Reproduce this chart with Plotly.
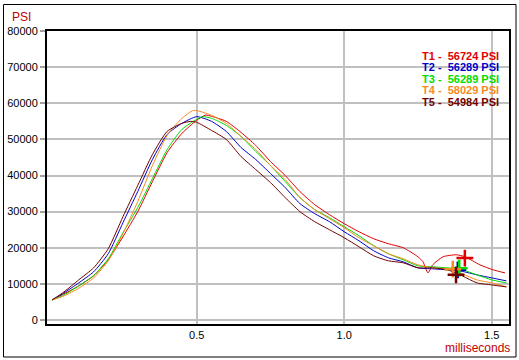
import plotly.graph_objects as go

# ---------------- data ----------------
NAMES = ["T1", "T2", "T3", "T4", "T5"]
PEAKS = [56724, 56289, 56289, 58029, 54984]
COLORS = ["#e00000", "#0000c8", "#00dc00", "#f58a1f", "#700000"]

T1_T = [0.01, 0.05, 0.10, 0.15, 0.20, 0.25, 0.30, 0.35, 0.40, 0.45, 0.50, 0.53, 0.55, 0.60, 0.65, 0.70,
        0.75, 0.80, 0.85, 0.90, 0.95, 1.00, 1.05, 1.10, 1.15, 1.20, 1.25, 1.267, 1.284, 1.30, 1.335,
        1.38, 1.41, 1.46, 1.505, 1.545]
T1_P = [5556, 7222, 9444, 12200, 16667, 23056, 30000, 38333, 46389, 51667, 55278, 56724, 56389, 55000,
        51944, 48333, 43889, 40000, 35556, 31944, 29167, 26667, 24444, 22500, 21111, 20000, 17500,
        16111, 13056, 15278, 17500, 18056, 17500, 15278, 13889, 13056]

T2_T = [0.01, 0.05, 0.10, 0.15, 0.20, 0.25, 0.30, 0.35, 0.40, 0.45, 0.50, 0.55, 0.60, 0.65, 0.70, 0.75,
        0.80, 0.85, 0.90, 0.95, 1.00, 1.05, 1.10, 1.15, 1.20, 1.25, 1.30, 1.35, 1.40, 1.45, 1.50, 1.55]
T2_P = [5556, 7500, 10278, 13300, 18333, 26944, 35556, 44444, 51389, 54444, 56289, 55000, 52222, 47778,
        44444, 40556, 36667, 32222, 29444, 27222, 24444, 21944, 19167, 17222, 16111, 14444, 14167,
        13889, 13472, 12500, 11667, 10833]

T3_T = [0.01, 0.05, 0.10, 0.15, 0.20, 0.25, 0.30, 0.35, 0.40, 0.45, 0.50, 0.52, 0.55, 0.60, 0.65, 0.70,
        0.75, 0.80, 0.85, 0.90, 0.95, 1.00, 1.05, 1.10, 1.15, 1.20, 1.25, 1.30, 1.35, 1.40, 1.45, 1.50, 1.55]
T3_P = [5556, 6944, 9444, 12300, 16944, 24167, 31111, 39167, 47222, 52778, 55556, 56289, 55833, 53889,
        50833, 46667, 42778, 38333, 33889, 30556, 28333, 25833, 23333, 20556, 18333, 16667, 15000,
        14722, 14444, 13889, 12500, 11111, 10278]

T4_T = [0.01, 0.05, 0.10, 0.15, 0.20, 0.25, 0.30, 0.35, 0.40, 0.45, 0.49, 0.55, 0.60, 0.65, 0.70, 0.75,
        0.80, 0.85, 0.90, 0.95, 1.00, 1.05, 1.10, 1.15, 1.20, 1.25, 1.30, 1.35, 1.40, 1.45, 1.50, 1.55]
T4_P = [5556, 6667, 8800, 11600, 16389, 23889, 32778, 42778, 51111, 55833, 58029, 56667, 54444, 50833,
        47222, 42778, 38889, 33889, 30556, 28056, 25556, 22778, 20556, 18333, 16944, 15278, 14444,
        14167, 12778, 11111, 10278, 9167]

T5_T = [0.01, 0.05, 0.10, 0.15, 0.20, 0.25, 0.30, 0.35, 0.40, 0.45, 0.48, 0.50, 0.55, 0.60, 0.65, 0.70,
        0.75, 0.80, 0.85, 0.90, 0.95, 1.00, 1.05, 1.10, 1.15, 1.20, 1.25, 1.30, 1.35, 1.40, 1.45, 1.50, 1.55]
T5_P = [5556, 7778, 11111, 14400, 19722, 28611, 37222, 45833, 52222, 54444, 54984, 54722, 52500, 50000,
        45278, 41667, 38056, 33889, 30000, 27222, 25000, 22778, 20278, 17778, 16389, 15833, 14444,
        14444, 13889, 12222, 10278, 9722, 9167]

MARK_T = [1.409, 1.385, 1.390, 1.368, 1.379]
MARK_P = [17140, 13890, 14360, 14085, 12500]

Y_TICKS = [0, 10000, 20000, 30000, 40000, 50000, 60000, 70000, 80000]
X_TICKS = [0.5, 1.0, 1.5]
X_TICK_TEXT = ["0.5", "1.0", "1.5"]

SERIES_T = [T1_T, T2_T, T3_T, T4_T, T5_T]
SERIES_P = [T1_P, T2_P, T3_P, T4_P, T5_P]

# ---------------- figure ----------------
FONT = "Liberation Sans, Arial, sans-serif"
fig = go.Figure()
for i in range(5):
    fig.add_trace(go.Scatter(x=SERIES_T[i], y=SERIES_P[i], mode="lines",
                             line=dict(color=COLORS[i], width=1, shape="spline", smoothing=0.6),
                             hoverinfo="skip", showlegend=False))
for i in range(5):
    fig.add_trace(go.Scatter(x=[MARK_T[i]], y=[MARK_P[i]], mode="markers",
                             marker=dict(symbol="cross-thin", size=12,
                                         line=dict(color=COLORS[i], width=2.5)),
                             hoverinfo="skip", showlegend=False))

W, H = 519, 360
L, R, T, B = 47, 10, 31, 36
pw, ph = W - L - R, H - T - B


def px(x):
    return (x - L) / pw


def py(y):
    return (H - B - y) / ph


ann = []
ann.append(dict(text="PSI", x=px(10), y=py(17), xref="paper", yref="paper", xanchor="left",
                yanchor="middle", showarrow=False, font=dict(family=FONT, size=12, color="#c00000")))
ann.append(dict(text="milliseconds", x=px(512), y=py(348), xref="paper", yref="paper", xanchor="right",
                yanchor="middle", showarrow=False, font=dict(family=FONT, size=12, color="#c00000")))
row_y = [55.5, 67, 78.5, 90, 101.5]
for i in range(5):
    ann.append(dict(text=f"{NAMES[i]} -\u00a0\u00a0{PEAKS[i]} PSI", x=px(501), y=py(row_y[i]),
                    xref="paper", yref="paper", xanchor="right", yanchor="middle", showarrow=False,
                    font=dict(family=FONT, size=11, color=COLORS[i], weight="bold")))

fig.update_layout(
    width=W, height=H,
    margin=dict(l=L, r=R, t=T, b=B, autoexpand=False),
    paper_bgcolor="white", plot_bgcolor="white",
    annotations=ann,
    shapes=[dict(type="rect", xref="paper", yref="paper", x0=px(3.5), x1=px(516), y0=py(357), y1=py(4.5),
                 line=dict(color="black", width=1), layer="below")],
    xaxis=dict(range=[-0.0075, 1.5586], tickvals=X_TICKS, ticktext=X_TICK_TEXT, automargin=False,
               showgrid=True, gridcolor="#c0c0c0", gridwidth=2, zeroline=False,
               showline=True, mirror=True, linecolor="black", linewidth=2,
               ticks="", tickfont=dict(family=FONT, size=11, color="black")),
    yaxis=dict(range=[-1100, 80000], tickvals=Y_TICKS, ticktext=[str(v) for v in Y_TICKS], automargin=False,
               showgrid=True, gridcolor="#c0c0c0", gridwidth=2, zeroline=False,
               showline=True, mirror=True, linecolor="black", linewidth=2,
               ticks="outside", ticklen=5, tickcolor="#a0a0a0", tickwidth=2,
               tickfont=dict(family=FONT, size=11, color="black")),
)
fig.write_html("out.html", config={"displayModeBar": False, "staticPlot": True},
               post_script="document.body.style.margin='0';document.body.style.overflow='hidden';")
